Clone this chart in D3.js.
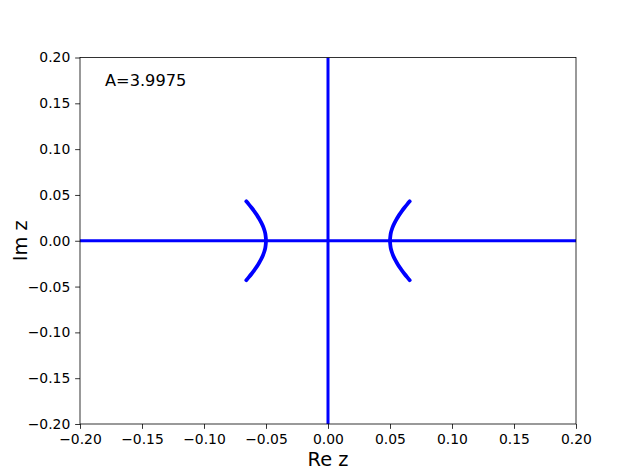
<!DOCTYPE html>
<html><head><meta charset="utf-8">
<script src="https://cdn.jsdelivr.net/npm/d3@7"></script>
<style>
html,body{margin:0;padding:0;background:#fff;}
svg text{font-family:"DejaVu Sans",sans-serif;}
</style></head>
<body>
<svg id="chart" width="640" height="476"></svg>
<script>
const xTicks = [-0.20,-0.15,-0.10,-0.05,0.00,0.05,0.10,0.15,0.20];
const yTicks = [-0.20,-0.15,-0.10,-0.05,0.00,0.05,0.10,0.15,0.20];
const xLabel = "Re z";
const yLabel = "Im z";
const annotation = "A=3.9975";
// real axis branch
const realAxis = [[-0.2,0],[0.2,0]];
// imaginary axis branch
const imagAxis = [[0,-0.2],[0,0.2]];
const arcIm = [-0.043,-0.040,-0.036,-0.032,-0.028,-0.024,-0.020,-0.016,-0.012,-0.008,-0.004,0.0,0.004,0.008,0.012,0.016,0.020,0.024,0.028,0.032,0.036,0.040,0.043];
const arcRe = [0.0659,0.0640,0.0616,0.0594,0.0573,0.0555,0.0539,0.0525,0.0514,0.0506,0.0502,0.0500,0.0502,0.0506,0.0514,0.0525,0.0539,0.0555,0.0573,0.0594,0.0616,0.0640,0.0659];
const rightArc = arcIm.map((v,i)=>[arcRe[i], v]);
const leftArc = arcIm.map((v,i)=>[-arcRe[i], v]);

const svg = d3.select("#chart");
const L=80, R=576, T=57.5, B=424;
const x = d3.scaleLinear().domain([-0.2,0.2]).range([L,R]);
const y = d3.scaleLinear().domain([-0.2,0.2]).range([B,T]);

svg.append("clipPath").attr("id","clip").append("rect")
  .attr("x",L).attr("y",T).attr("width",R-L).attr("height",B-T);

const line = d3.line().x(d=>x(d[0])).y(d=>y(d[1])).curve(d3.curveCatmullRom);
const g = svg.append("g").attr("clip-path","url(#clip)");
[realAxis, imagAxis].forEach(s=>{
  g.append("path").attr("d",line(s)).attr("fill","none").attr("stroke","#0000ff").attr("stroke-width",3);
});
[rightArc, leftArc].forEach(s=>{
  g.append("path").attr("d",line(s)).attr("fill","none").attr("stroke","#0000ff").attr("stroke-width",3.8).attr("stroke-linecap","round");
});

const fmt = d3.format(".2f");
const fmtT = v => fmt(v).replace("-","\u2212");
const xa = svg.append("g").attr("transform",`translate(0,${B})`)
  .call(d3.axisBottom(x).tickValues(xTicks).tickFormat(fmtT).tickSize(4.86).tickPadding(4.86));
const ya = svg.append("g").attr("transform",`translate(${L},0)`)
  .call(d3.axisLeft(y).tickValues(yTicks).tickFormat(fmtT).tickSize(4.86).tickPadding(4.86));
[xa,ya].forEach(a=>{
  a.select(".domain").remove();
  a.selectAll("line").attr("stroke","#000").attr("stroke-width",0.8);
  a.selectAll("text").attr("font-size","13.9px").attr("fill","#000").attr("font-family","DejaVu Sans");
});

svg.append("rect").attr("x",L).attr("y",T).attr("width",R-L).attr("height",B-T)
  .attr("fill","none").attr("stroke","#000").attr("stroke-width",0.8);

svg.append("text").attr("x",(L+R)/2).attr("y",466).attr("text-anchor","middle")
  .attr("font-size","19.4px").text(xLabel);
svg.append("text").attr("transform",`translate(27,${(T+B)/2}) rotate(-90)`).attr("text-anchor","middle")
  .attr("font-size","19.4px").text(yLabel);
svg.append("text").attr("x",105).attr("y",85.5).attr("font-size","16.2px").text(annotation);
</script>
</body></html>
